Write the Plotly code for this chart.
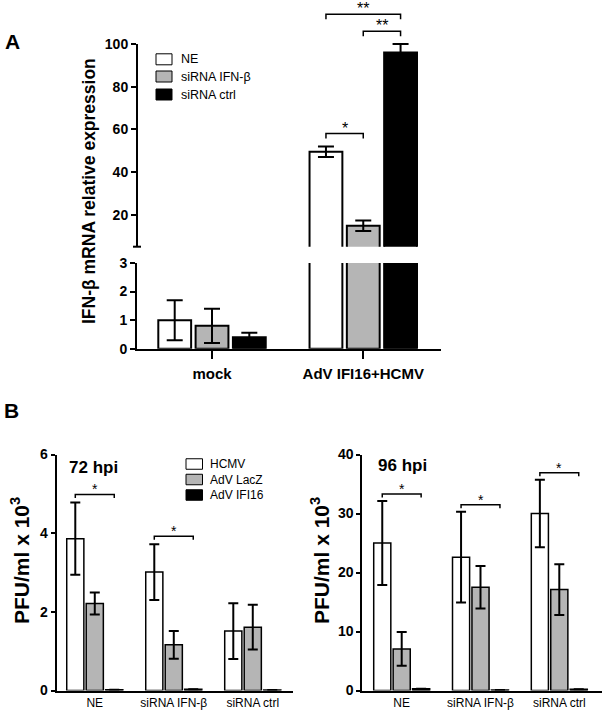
import plotly.graph_objects as go

# ---------------- data ----------------
# Panel A
a_groups = ["mock", "AdV IFI16+HCMV"]
a_series = ["NE", "siRNA IFN-β", "siRNA ctrl"]
a_ne = [1.0, 49.5]
a_ne_err = [0.7, 2.5]
a_sirna_ifn = [0.8, 14.8]
a_sirna_ifn_err = [0.6, 2.5]
a_sirna_ctrl = [0.4, 96.0]
a_sirna_ctrl_err = [0.16, 4.0]
a_upper_ticks = [20, 40, 60, 80, 100]
a_lower_ticks = [0, 1, 2, 3]
a_sig = [(1, 0, 1, "*"), (1, 1, 2, "**"), (1, 0, 2, "**")]

# Panel B
b_groups = ["NE", "siRNA IFN-β", "siRNA ctrl"]
b_series = ["HCMV", "AdV LacZ", "AdV IFI16"]
b72_hcmv = [3.86, 3.01, 1.51]
b72_hcmv_err = [0.92, 0.71, 0.71]
b72_lacz = [2.21, 1.16, 1.61]
b72_lacz_err = [0.28, 0.35, 0.57]
b72_ifi16 = [0.02, 0.03, 0.01]
b72_ifi16_err = [0.0, 0.0, 0.0]
b96_hcmv = [25.0, 22.6, 30.0]
b96_hcmv_err = [7.1, 7.7, 5.7]
b96_lacz = [7.05, 17.5, 17.1]
b96_lacz_err = [2.85, 3.6, 4.3]
b96_ifi16 = [0.3, 0.1, 0.2]
b96_ifi16_err = [0.0, 0.0, 0.0]
b72_ticks = [0, 2, 4, 6]
b96_ticks = [0, 10, 20, 30, 40]
b72_sig = [(0, 0, 2, "*"), (1, 0, 2, "*")]
b96_sig = [(0, 0, 2, "*"), (1, 0, 2, "*"), (2, 0, 2, "*")]

# ---------------- styling / layout ----------------
W, H = 604, 711
FONT = "Arial, 'Liberation Sans', sans-serif"
GRAY = "#b5b5b5"
COLORS = ["white", GRAY, "black"]
BARGAP, GROUPGAP = 0.26, 0.12
SLOT = (1 - BARGAP) / 3


def px_x(p):
    return p / W


def px_y(p):
    return 1 - p / H


# A upper axis: value 100 at 44px, value 5 at 246.7px
A_UP_RANGE = [5, 118]
a_ppu = (246.7 - 44) / 95.0
a_up_top_px = 44 - (A_UP_RANGE[1] - 100) * a_ppu
A_UP_DOM = [px_y(246.7), px_y(a_up_top_px)]
A_LO_DOM = [px_y(348.7), px_y(263)]
A_X_DOM = [px_x(137), px_x(440.7)]
B_Y_DOM = [px_y(690.5), px_y(454.5)]
BL_X_DOM = [px_x(56.7), px_x(293.3)]
BR_X_DOM = [px_x(362.3), px_x(601.7)]


def val_to_paper(v, rng, dom):
    return dom[0] + (v - rng[0]) / (rng[1] - rng[0]) * (dom[1] - dom[0])


fig = go.Figure()


def add_bars(xa, ya, series, vals, errs, lw, cap, group_ids):
    for k, (name, v, e) in enumerate(zip(series, vals, errs)):
        fig.add_trace(go.Bar(
            x=group_ids, y=v, name=name, xaxis=xa, yaxis=ya,
            marker=dict(color=COLORS[k], line=dict(color="black", width=lw)),
            error_y=dict(type="data", array=e, visible=True, color="black",
                         thickness=2, width=cap),
            showlegend=False,
        ))


a_vals = [a_ne, a_sirna_ifn, a_sirna_ctrl]
a_errs = [a_ne_err, a_sirna_ifn_err, a_sirna_ctrl_err]
a_ids = list(range(len(a_groups)))
add_bars("x", "y", a_series, a_vals, a_errs, 2, 8, a_ids)
add_bars("x", "y2", a_series, a_vals, a_errs, 2, 8, a_ids)

b72_vals = [b72_hcmv, b72_lacz, b72_ifi16]
b72_errs = [b72_hcmv_err, b72_lacz_err, b72_ifi16_err]
b96_vals = [b96_hcmv, b96_lacz, b96_ifi16]
b96_errs = [b96_hcmv_err, b96_lacz_err, b96_ifi16_err]
b_ids = list(range(len(b_groups)))
add_bars("x3", "y3", b_series, b72_vals, b72_errs, 1.5, 5, b_ids)
add_bars("x4", "y4", b_series, b96_vals, b96_errs, 1.5, 5, b_ids)

annotations = []
shapes = []


def add_sig(sigs, vals, errs, xa, ya, ppu, pad_px, step_px, drop_px, star_size):
    pad = pad_px / ppu
    step = step_px / ppu
    drop = drop_px / ppu
    done = []
    for g, i, j, lab in sigs:
        h = max(vals[k][g] + errs[k][g] for k in range(i, j + 1)) + pad
        for (pg, pi, pj, ph) in done:
            if pg == g and pi >= i and pj <= j:
                h = max(h, ph + step)
        done.append((g, i, j, h))
        x1 = g + (i - 1) * SLOT
        x2 = g + (j - 1) * SLOT
        fig.add_trace(go.Scatter(
            x=[x1, x1, x2, x2], y=[h - drop, h, h, h - drop], mode="lines",
            line=dict(color="black", width=1.5), xaxis=xa, yaxis=ya,
            showlegend=False, hoverinfo="skip",
        ))
        annotations.append(dict(
            x=(x1 + x2) / 2, y=h, xref=xa, yref=ya, text=lab, showarrow=False,
            xanchor="center", yanchor="bottom", yshift=-5,
            font=dict(family=FONT, size=star_size, color="black"),
        ))


add_sig(a_sig, a_vals, a_errs, "x", "y", a_ppu, 12.8, 17, 5, 16)
bl_ppu = (B_Y_DOM[1] - B_Y_DOM[0]) * H / 6.0
br_ppu = (B_Y_DOM[1] - B_Y_DOM[0]) * H / 40.0
add_sig(b72_sig, b72_vals, b72_errs, "x3", "y3", bl_ppu, 8, 0, 3.5, 14)
add_sig(b96_sig, b96_vals, b96_errs, "x4", "y4", br_ppu, 7, 0, 3.5, 14)


def bold(s):
    return dict(family=FONT, size=s, color="black", weight="bold")


def reg(s):
    return dict(family=FONT, size=s, color="black")


def text_ann(text, x, y, font, angle=0, xanchor="center"):
    annotations.append(dict(text=text, x=px_x(x), y=px_y(y), xref="paper",
                            yref="paper", showarrow=False, textangle=angle,
                            xanchor=xanchor, yanchor="middle", font=font))


text_ann("A", 12, 41, bold(21))
text_ann("B", 11, 410, bold(21))
text_ann("IFN-β mRNA relative expression", 89, 191, bold(17.5), -90)
text_ann("PFU/ml x 10<sup>3</sup>", 20, 561, bold(21), -90)
text_ann("PFU/ml x 10<sup>3</sup>", 320, 561, bold(21), -90)
text_ann("72 hpi", 93, 467, bold(17))
text_ann("96 hpi", 402, 466, bold(17))


def manual_legend(names, box_x0, box_w, box_h, row_y, text_x, size):
    for k, (name, yc) in enumerate(zip(names, row_y)):
        shapes.append(dict(type="rect", xref="paper", yref="paper",
                           x0=px_x(box_x0), x1=px_x(box_x0 + box_w),
                           y0=px_y(yc + box_h / 2), y1=px_y(yc - box_h / 2),
                           fillcolor=COLORS[k],
                           line=dict(color="black", width=1)))
        text_ann(name, text_x, yc, reg(size), xanchor="left")


manual_legend(a_series, 156, 16, 11, [59.3, 76.5, 94.5], 179, 12.5)
manual_legend(b_series, 186, 16.5, 10.5, [464, 479.5, 495], 208, 12)

shapes += [
    # upper A y-axis line from 5 to 100 (broken axis)
    dict(type="line", xref="paper", yref="paper",
         x0=A_X_DOM[0], x1=A_X_DOM[0],
         y0=val_to_paper(5, A_UP_RANGE, A_UP_DOM),
         y1=val_to_paper(100, A_UP_RANGE, A_UP_DOM),
         line=dict(color="black", width=2)),
    dict(type="line", xref="paper", yref="paper",
         x0=A_X_DOM[0] - px_x(4), x1=A_X_DOM[0] + px_x(4),
         y0=val_to_paper(5, A_UP_RANGE, A_UP_DOM),
         y1=val_to_paper(5, A_UP_RANGE, A_UP_DOM),
         line=dict(color="black", width=2)),
]

axis_common = dict(showgrid=False, zeroline=False, linecolor="black",
                   linewidth=2, tickcolor="black", tickwidth=2)

fig.update_layout(
    width=W, height=H, margin=dict(l=0, r=0, t=0, b=0, autoexpand=False),
    paper_bgcolor="white", plot_bgcolor="white",
    barmode="group", bargap=BARGAP, bargroupgap=GROUPGAP,
    font=dict(family=FONT, color="black"),
    xaxis=dict(domain=A_X_DOM, range=[-0.496, 1.512], anchor="y2",
               tickvals=a_ids, ticktext=a_groups, ticks="outside", ticklen=8,
               showline=True, tickfont=bold(15), ticklabelstandoff=2,
               **axis_common),
    yaxis=dict(domain=A_UP_DOM, range=A_UP_RANGE, anchor="x",
               tickvals=a_upper_ticks, ticks="outside", ticklen=5,
               showline=False, tickfont=bold(14), **axis_common),
    yaxis2=dict(domain=A_LO_DOM, range=[0, 3], anchor="x",
                tickvals=a_lower_ticks, ticks="outside", ticklen=5,
                showline=True, tickfont=bold(14), **axis_common),
    xaxis3=dict(domain=BL_X_DOM, range=[-0.482, 2.513], anchor="y3",
                tickvals=b_ids, ticktext=b_groups, ticks="", showline=True,
                tickfont=reg(12), **axis_common),
    yaxis3=dict(domain=B_Y_DOM, range=[0, 6], anchor="x3",
                tickvals=b72_ticks, ticks="outside", ticklen=4,
                showline=True, tickfont=bold(14), **axis_common),
    xaxis4=dict(domain=BR_X_DOM, range=[-0.5, 2.538], anchor="y4",
                tickvals=b_ids, ticktext=b_groups, ticks="", showline=True,
                tickfont=reg(12), **axis_common),
    yaxis4=dict(domain=B_Y_DOM, range=[0, 40], anchor="x4",
                tickvals=b96_ticks, ticks="outside", ticklen=4,
                showline=True, tickfont=bold(14), **axis_common),
    annotations=annotations,
    shapes=shapes,
    showlegend=False,
)

fig.write_html(
    "out.html",
    config={"displayModeBar": False},
    post_script="document.body.style.margin='0';"
                "document.body.style.padding='0';"
                "document.documentElement.style.overflow='hidden';",
)
